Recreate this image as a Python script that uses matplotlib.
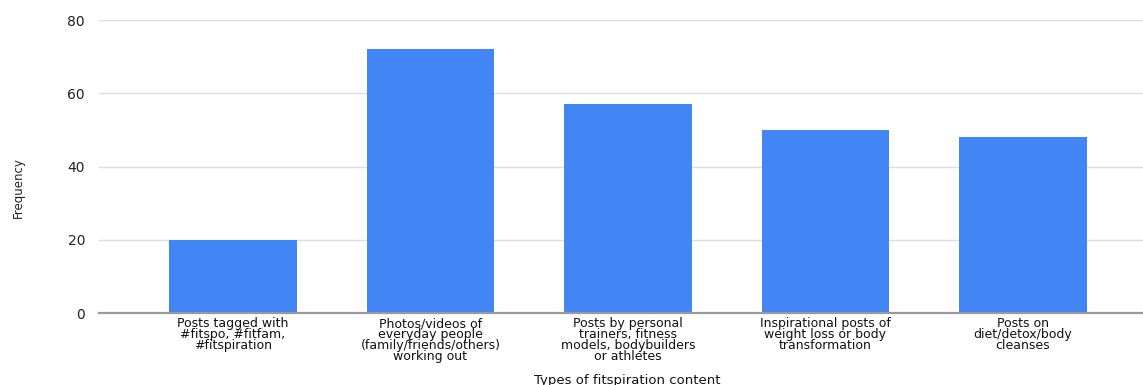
import matplotlib.pyplot as plt
import numpy as np

categories = [
    "Posts tagged with\n#fitspo, #fitfam,\n#fitspiration",
    "Photos/videos of\neveryday people\n(family/friends/others)\nworking out",
    "Posts by personal\ntrainers, fitness\nmodels, bodybuilders\nor athletes",
    "Inspirational posts of\nweight loss or body\ntransformation",
    "Posts on\ndiet/detox/body\ncleanses",
]
frequency = [20, 72, 57, 50, 48]
yticks = [0, 20, 40, 60, 80]

plt.rcParams['font.family'] = ['DejaVu Sans']

fig = plt.figure(figsize=(11.43, 3.85), dpi=100)
ax = fig.add_axes([0.0866, 0.187, 0.9134, 0.761])

x = np.arange(len(categories))
ax.bar(x, frequency, width=0.645, color='#4285F4', zorder=3)

ax.set_xlim(-0.678, 4.608)
ax.set_ylim(0, 80)
ax.set_yticks(yticks)
ax.set_yticklabels([str(v) for v in yticks], fontsize=10, color='#222222')
ax.set_xticks(x)
ax.set_xticklabels(categories, fontsize=9, color='#111111', linespacing=0.78)
ax.tick_params(axis='both', length=0)
ax.tick_params(axis='y', pad=10)
ax.tick_params(axis='x', pad=3)

ax.grid(axis='y', color='#dddddd', linewidth=1, zorder=0)
for s in ['top', 'right', 'left']:
    ax.spines[s].set_visible(False)
ax.spines['bottom'].set_color('#999999')
ax.spines['bottom'].set_linewidth(1.6)
ax.spines['bottom'].set_zorder(4)

fig.text(0.016, 0.514, 'Frequency', rotation=90, ha='center', va='center',
         fontsize=8.5, color='#222222',
         family=['Liberation Sans Narrow', 'DejaVu Sans'])
fig.text(0.549, 0.012, 'Types of fitspiration content', ha='center', va='center',
         fontsize=9.5, color='#111111')

fig.savefig('out.png', dpi=100)
